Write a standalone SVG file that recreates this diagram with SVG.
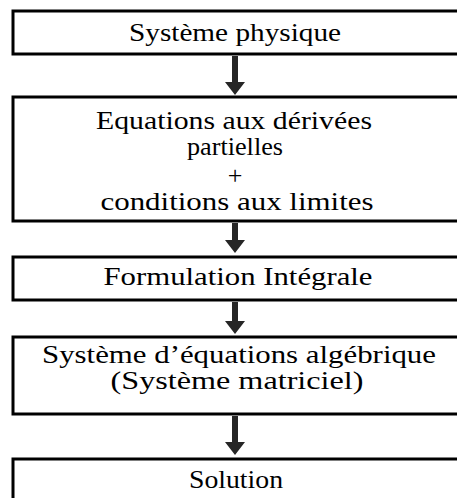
<svg xmlns="http://www.w3.org/2000/svg" width="457" height="498" viewBox="0 0 457 498">
<defs>
<style>
.box{fill:#fff;stroke:#000;stroke-width:3}
.t{font-family:"Liberation Serif","Times New Roman",serif;font-size:25px;fill:#000;text-anchor:middle}
.arr{fill:#262626;stroke:none}
</style>
</defs>
<rect width="457" height="498" fill="#fff"/>
<g id="connectors">
<path class="arr" d="M232,56 H238 V82 H245 L235,95 L225,82 H232 Z"/>
<path class="arr" d="M232,223 H238 V240 H245 L235,253 L225,240 H232 Z"/>
<path class="arr" d="M232,302 H238 V321 H245 L235,334 L225,321 H232 Z"/>
<path class="arr" d="M232,416 H238 V442 H245 L235,455 L225,442 H232 Z"/>
</g>
<g id="n1">
<rect class="box" x="13" y="11" width="450" height="43"/>
<text class="t" x="235" y="41" textLength="212" lengthAdjust="spacingAndGlyphs">Système physique</text>
</g>
<g id="n2">
<rect class="box" x="13" y="97" width="450" height="124"/>
<text class="t" x="234" y="129" textLength="276" lengthAdjust="spacingAndGlyphs">Equations aux dérivées</text>
<text class="t" x="235" y="155" textLength="96" lengthAdjust="spacingAndGlyphs">partielles</text>
<text class="t" x="235" y="184" style="font-size:26px">+</text>
<text class="t" x="237" y="210" textLength="273" lengthAdjust="spacingAndGlyphs">conditions aux limites</text>
</g>
<g id="n3">
<rect class="box" x="13" y="257" width="450" height="43"/>
<text class="t" x="238" y="285" textLength="269" lengthAdjust="spacingAndGlyphs">Formulation Intégrale</text>
</g>
<g id="n4">
<rect class="box" x="13" y="337" width="450" height="77"/>
<text class="t" x="239" y="363" textLength="394" lengthAdjust="spacingAndGlyphs">Système d’équations algébrique</text>
<text class="t" x="237" y="389" textLength="253" lengthAdjust="spacingAndGlyphs">(Système matriciel)</text>
</g>
<g id="n5">
<rect class="box" x="13" y="459" width="450" height="60"/>
<text class="t" x="236" y="488" textLength="94" lengthAdjust="spacingAndGlyphs">Solution</text>
</g>
</svg>
